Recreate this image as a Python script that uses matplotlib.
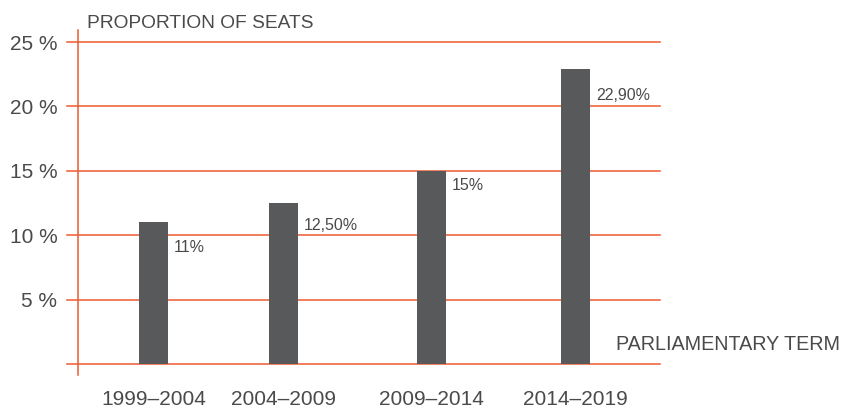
"""
Proportion of seats per parliamentary term, bar chart
"""

import matplotlib
matplotlib.use('Agg')
import matplotlib.pyplot as plt

# ----data-----
terms = ['1999–2004', '2004–2009', '2009–2014', '2014–2019']
seats = [11, 12.5, 15, 22.9]
seat_labels = ['11%', '12,50%', '15%', '22,90%']
y_ticks = [0, 5, 10, 15, 20, 25]
y_tick_labels = ['', '5 %', '10 %', '15 %', '20 %', '25 %']

# ----layout / style-----
x_pos = [0, 1, 2.138, 3.246]
label_dy = [-25, -22, -15, -26]   # pixels below top of bar
bar_color = '#58595b'
grid_color = '#ec5a30'
text_color = '#4a4a4a'

plt.rcParams['font.family'] = ['Liberation Sans', 'DejaVu Sans']

W, H = 841, 409
fig = plt.figure(figsize=(W / 100, H / 100), dpi=100)
ax = fig.add_axes([67 / W, (H - 364) / H, (660 - 67) / W, (364 - 42) / H])

ax.bar(x_pos, seats, width=0.223, color=bar_color, zorder=3)

ax.set_xlim(-0.665, 3.896)
ax.set_ylim(0, 25)

ax.set_yticks(y_ticks)
ax.set_yticklabels(y_tick_labels)
ax.set_xticks(x_pos)
ax.set_xticklabels(terms)
ax.tick_params(axis='both', length=0, labelsize=15, labelcolor=text_color)
ax.tick_params(axis='y', pad=7)
ax.tick_params(axis='x', pad=19)

for s in ax.spines.values():
    s.set_visible(False)

# horizontal grid
for y in y_ticks:
    ax.axhline(y, color=grid_color, linewidth=1.1, zorder=1, clip_on=False)

# vertical axis line, a bit longer than the plot
ax.axvline(-0.577, ymin=-0.034, ymax=1.037, color=grid_color,
           linewidth=1.1, zorder=1, clip_on=False)

# value labels
for x, v, lab, dy in zip(x_pos, seats, seat_labels, label_dy):
    ax.annotate(lab, xy=(x + 0.1115, v), xytext=(6, dy),
                textcoords='offset pixels', ha='left', va='center',
                fontsize=11.5, color=text_color)

fig.text(87 / W, 1 - 23 / H, 'PROPORTION OF SEATS', ha='left', va='center',
         fontsize=13.8, color=text_color)
fig.text(840 / W, 1 - 345 / H, 'PARLIAMENTARY TERM', ha='right', va='center',
         fontsize=14.2, color=text_color)

plt.savefig('out.png', dpi=100)
plt.close()
